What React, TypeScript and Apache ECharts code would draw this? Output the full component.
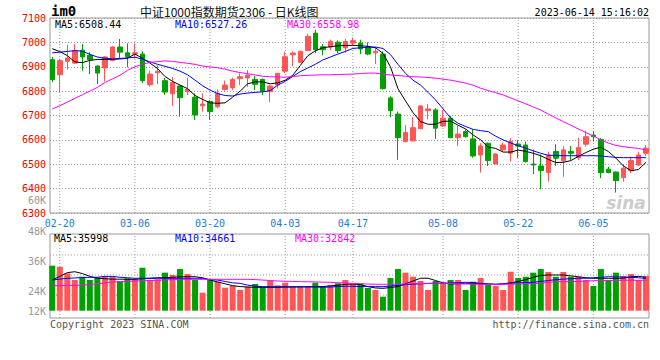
import React, { useEffect, useRef } from 'react';
import * as echarts from 'echarts';

const DATES = [
  '02-17',
  '02-20', '02-21', '02-22', '02-23', '02-24',
  '02-27', '02-28', '03-01', '03-02', '03-03',
  '03-06', '03-07', '03-08', '03-09', '03-10',
  '03-13', '03-14', '03-15', '03-16', '03-17',
  '03-20', '03-21', '03-22', '03-23', '03-24',
  '03-27', '03-28', '03-29', '03-30', '03-31',
  '04-03', '04-04', '04-06', '04-07',
  '04-10', '04-11', '04-12', '04-13', '04-14',
  '04-17', '04-18', '04-19', '04-20', '04-21',
  '04-24', '04-25', '04-26', '04-27', '04-28',
  '05-04', '05-05',
  '05-08', '05-09', '05-10', '05-11', '05-12',
  '05-15', '05-16', '05-17', '05-18', '05-19',
  '05-22', '05-23', '05-24', '05-25', '05-26',
  '05-29', '05-30', '05-31', '06-01', '06-02',
  '06-05', '06-06', '06-07', '06-08', '06-09',
  '06-12', '06-13', '06-14',
];
const TICK_DATES = ['02-20', '03-06', '03-20', '04-03', '04-17', '05-08', '05-22', '06-05'];

const OPEN = [
  6929, 6867, 6922, 6915, 6968, 6947, 6903, 6895, 6926, 6981,
  6957, 6952, 6952, 6826, 6875, 6843, 6789, 6821, 6798, 6775,
  6740, 6757, 6736, 6807, 6814, 6851, 6854, 6848, 6848, 6798,
  6825, 6882, 6949, 6918, 6967, 7038, 6982, 6981, 7001, 6977,
  6997, 6997, 6980, 6957, 6952, 6772, 6706, 6593, 6596, 6646,
  6720, 6723, 6657, 6689, 6609, 6634, 6604, 6538, 6586, 6501,
  6559, 6545, 6583, 6579, 6501, 6493, 6466, 6552, 6514, 6552,
  6527, 6582, 6620, 6602, 6480, 6468, 6445, 6473, 6497, 6545,
];
const CLOSE = [
  6847, 6925, 6936, 6967, 6940, 6929, 6874, 6940, 6981, 6960,
  6941, 6957, 6843, 6870, 6881, 6796, 6835, 6773, 6807, 6702,
  6747, 6716, 6791, 6825, 6848, 6859, 6866, 6828, 6800, 6821,
  6873, 6941, 6956, 6963, 7025, 6970, 6970, 7004, 6966, 7004,
  7007, 6973, 6952, 6963, 6810, 6720, 6609, 6630, 6650, 6739,
  6727, 6648, 6689, 6609, 6624, 6613, 6534, 6575, 6515, 6542,
  6579, 6593, 6575, 6511, 6497, 6474, 6538, 6525, 6559, 6545,
  6568, 6613, 6613, 6466, 6466, 6433, 6484, 6515, 6538, 6566,
];
const LOW = [
  6837, 6795, 6888, 6911, 6884, 6870, 6829, 6840, 6922, 6936,
  6898, 6933, 6833, 6818, 6829, 6785, 6739, 6695, 6784, 6682,
  6716, 6682, 6730, 6802, 6805, 6825, 6818, 6805, 6784, 6755,
  6811, 6873, 6902, 6915, 6963, 6956, 6947, 6968, 6956, 6957,
  6988, 6952, 6947, 6911, 6806, 6693, 6518, 6590, 6593, 6643,
  6684, 6604, 6654, 6607, 6575, 6609, 6527, 6466, 6493, 6501,
  6552, 6511, 6525, 6507, 6460, 6397, 6429, 6493, 6449, 6518,
  6518, 6572, 6593, 6443, 6463, 6384, 6429, 6463, 6493, 6534,
];
const HIGH = [
  6940, 6933, 6990, 6993, 6993, 6960, 6906, 6943, 6984, 7014,
  6996, 6996, 6963, 6884, 6906, 6854, 6858, 6823, 6855, 6791,
  6791, 6764, 6807, 6843, 6855, 6873, 6886, 6862, 6852, 6825,
  6875, 6961, 6963, 6966, 7035, 7052, 6993, 7011, 7008, 7014,
  7020, 7011, 7000, 6980, 6963, 6779, 6716, 6661, 6693, 6743,
  6747, 6730, 6723, 6698, 6657, 6643, 6643, 6586, 6589, 6545,
  6589, 6607, 6600, 6593, 6560, 6540, 6552, 6582, 6575, 6575,
  6609, 6638, 6636, 6607, 6490, 6470, 6497, 6531, 6552, 6579,
];

const MA5 = [
  6974, 6962, 6946, 6920, 6917, 6926, 6930, 6930, 6930, 6932,
  6935, 6952, 6935, 6915, 6893, 6860, 6840, 6825, 6810, 6782,
  6766, 6752, 6750, 6752, 6775, 6800, 6830, 6838, 6838, 6830,
  6834, 6845, 6865, 6905, 6945, 6965, 6978, 6982, 6986, 6987,
  6988, 6986, 6984, 6978, 6955, 6900, 6810, 6760, 6712, 6675,
  6664, 6664, 6676, 6677, 6660, 6645, 6620, 6600, 6570, 6565,
  6550, 6550, 6558, 6553, 6545, 6535, 6520, 6507, 6508, 6515,
  6532, 6548, 6562, 6570, 6552, 6525, 6493, 6474, 6478, 6508,
];
const MA10 = [
  6957, 6960, 6963, 6966, 6964, 6951, 6940, 6935, 6932, 6934,
  6936, 6939, 6931, 6920, 6910, 6902, 6893, 6882, 6867, 6845,
  6822, 6804, 6790, 6782, 6780, 6788, 6792, 6795, 6797, 6802,
  6825, 6840, 6860, 6880, 6895, 6910, 6928, 6940, 6952, 6963,
  6975, 6978, 6980, 6981, 6975, 6950, 6910, 6873, 6845, 6825,
  6795, 6764, 6727, 6690, 6668, 6655, 6643, 6638, 6634, 6615,
  6600, 6587, 6576, 6566, 6555, 6545, 6537, 6536, 6535, 6535,
  6535, 6535, 6535, 6534, 6531, 6528, 6527, 6527, 6527, 6527,
];
const MA30 = [
  6727, 6740, 6755, 6770, 6785, 6800, 6815, 6835, 6850, 6865,
  6885, 6900, 6910, 6918, 6921, 6924, 6922, 6918, 6914, 6910,
  6903, 6899, 6896, 6890, 6882, 6876, 6872, 6866, 6861, 6859,
  6858, 6857, 6860, 6863, 6865, 6866, 6867, 6867, 6868, 6869,
  6870, 6872, 6874, 6874, 6869, 6866, 6864, 6861, 6859, 6858,
  6856, 6853, 6849, 6845, 6839, 6833, 6824, 6812, 6802, 6794,
  6784, 6772, 6760, 6748, 6735, 6722, 6706, 6690, 6675, 6660,
  6645, 6630, 6616, 6600, 6587, 6577, 6572, 6568, 6565, 6559,
];

const VOLUME = [
  48500, 47400, 40300, 33100, 36600, 33100, 36000, 37400, 36600, 32000,
  34900, 33800, 46300, 33100, 33800, 41000, 38500, 44900, 39500, 33100,
  19400, 33100, 31300, 24800, 26600, 22300, 25900, 28800, 25900, 32300,
  27300, 30200, 25900, 25900, 26600, 30200, 25900, 27700, 29500, 33100,
  29500, 29500, 24500, 22300, 15100, 35200, 44900, 41000, 36600, 32000,
  22300, 32000, 29500, 33100, 33100, 22300, 31300, 35200, 27700, 26600,
  22300, 42000, 35200, 36600, 41000, 44900, 41700, 36600, 41700, 36600,
  36600, 33100, 26600, 44900, 33100, 41000, 37400, 39500, 33100, 37400,
];
const VOL_MA5 = [
  33100, 37000, 41000, 42000, 40000, 37000, 35000, 34500, 34000, 34000,
  33800, 33800, 34500, 35000, 35500, 35500, 36000, 36600, 36600, 36600,
  35500, 33000, 31000, 29000, 27000, 26000, 25500, 25200, 25200, 25200,
  25200, 25400, 25500, 25600, 25800, 25900, 26000, 26600, 27500, 28300,
  28800, 28000, 26000, 24500, 24100, 25000, 26000, 29000, 32000, 35000,
  35000, 32500, 30000, 28800, 29000, 29500, 29500, 29000, 28600, 28400,
  29000, 30000, 31500, 33500, 36000, 38000, 38500, 38500, 38500, 37500,
  36600, 35500, 34900, 34900, 34900, 34900, 35000, 36500, 37000, 36000,
];
const VOL_MA10 = [
  33100, 34000, 34900, 35300, 35700, 36000, 36000, 37000, 37000, 36000,
  35500, 34900, 34900, 34900, 34900, 34900, 34900, 34900, 34900, 34900,
  34900, 33500, 33000, 31500, 30000, 29500, 27500, 26500, 25900, 25900,
  25900, 25900, 25900, 25900, 25700, 25500, 25300, 25500, 26000, 26300,
  26300, 26000, 26000, 25900, 25900, 26500, 27300, 28000, 28500, 29000,
  29300, 29500, 29500, 30000, 30300, 30600, 30300, 29500, 29000, 28400,
  28800, 29500, 30000, 30300, 30600, 31500, 32500, 33500, 34000, 34500,
  34900, 35000, 35500, 36000, 36600, 36500, 36200, 36000, 35500, 34700,
];
const VOL_MA30 = [
  26900, 27000, 27200, 27300, 27500, 28300, 28800, 30000, 30900, 31200,
  31500, 32000, 32200, 32500, 32800, 33200, 33500, 33800, 33800, 33800,
  33800, 33800, 33800, 33800, 33800, 33800, 33800, 33500, 33000, 32500,
  32000, 31800, 31500, 31300, 31200, 31000, 30800, 30600, 30200, 29800,
  29400, 29000, 28700, 28500, 28400, 28500, 28700, 28900, 29100, 29300,
  29500, 29500, 29500, 29300, 29000, 28800, 28600, 28500, 28400, 28400,
  28500, 28700, 28900, 29100, 29300, 29500, 30500, 31300, 31300, 31300,
  31500, 32000, 32300, 32500, 32600, 32700, 32800, 32800, 32800, 32800,
];

const PRICE_MIN = 6300;
const PRICE_MAX = 7100;
const PRICE_STEP = 100;
const VOL_MIN = -7870;
const VOL_MAX = 82650;
const VOL_GRID_VALUES = [16900, 38500, 60000];
const VOL_TICK_LABELS = ['48K', '36K', '24K', '12K'];
const PRICE_MA_LABELS = ['MA5:6508.44', 'MA10:6527.26', 'MA30:6558.98'];
const VOL_MA_LABELS = ['MA5:35998', 'MA10:34661', 'MA30:32842'];
const TITLE = '中证1000指数期货2306 - 日K线图';
const CODE = 'im0';
const TIMESTAMP = '2023-06-14 15:16:02';

const RED = '#ff5555';
const GREEN = '#00a000';
const MA_COLORS = ['#000000', '#0000ff', '#ff00ff'];
const MONO = "'DejaVu Sans Mono', 'Liberation Mono', monospace";
const GRID_COLOR = '#9a9a9a';
const BORDER_COLOR = '#999999';

export default function App() {
  const ref = useRef<HTMLDivElement>(null);
  useEffect(() => {
    const chart = echarts.init(ref.current!, null, { renderer: 'svg' });
    const tickIdx = TICK_DATES.map((d) => DATES.indexOf(d));
    const xMin = -0.3;
    const xMax = DATES.length - 1 + 0.4;
    const pair = (arr: number[]) => arr.map((v, i) => [i, v]);
    const candleData = DATES.map((_, i) => [i, OPEN[i], CLOSE[i], LOW[i], HIGH[i]]);
    const volData = VOLUME.map((v, i) => ({
      value: [i, v],
      itemStyle: { color: CLOSE[i] >= OPEN[i] ? RED : GREEN },
    }));
    const lineSeries = (name: string, data: number[], color: string, axis: number) => ({
      name,
      type: 'line',
      xAxisIndex: axis,
      yAxisIndex: axis,
      data: pair(data),
      symbol: 'none',
      showSymbol: false,
      lineStyle: { color, width: 1 },
      z: 4,
      silent: true,
    });
    // dotted reference lines drawn behind the candles / bars
    const gridSeries = (axis: number, data: number[][]) => ({
      type: 'line',
      xAxisIndex: axis,
      yAxisIndex: axis,
      data,
      symbol: 'none',
      showSymbol: false,
      clip: false,
      silent: true,
      z: 1,
      lineStyle: { color: GRID_COLOR, width: 1, type: [1, 2] },
    });
    const gridLines: any[] = [
      ...tickIdx.map((i) => gridSeries(0, [[i, PRICE_MIN], [i, PRICE_MAX]])),
      ...tickIdx.map((i) => gridSeries(1, [[i, VOL_MIN], [i, VOL_MAX]])),
      ...VOL_GRID_VALUES.map((v) => gridSeries(1, [[xMin, v], [xMax, v]])),
    ];

    const txt = (text: string, x: number, y: number, fill: string, font: string, align = 'left') => ({
      type: 'text',
      x,
      y,
      silent: true,
      style: { text, fill, font, textAlign: align, textVerticalAlign: 'middle' },
    });
    const xAxisBase = (gridIndex: number, showLabel: boolean) => ({
      type: 'value',
      gridIndex,
      min: xMin,
      max: xMax,
      axisLine: { show: false },
      axisTick: { show: false },
      splitLine: { show: false },
      axisLabel: {
        show: showLabel,
        customValues: tickIdx,
        formatter: (v: number) => DATES[Math.round(v)] || '',
        color: '#1a80d8',
        fontFamily: MONO,
        fontSize: 10,
        margin: 5,
      },
    });

    const option: any = {
      animation: false,
      backgroundColor: '#ffffff',
      grid: [
        { left: 50, right: 11, top: 18, height: 195, show: true, borderColor: BORDER_COLOR, borderWidth: 1 },
        { left: 50, right: 11, top: 234, height: 84, show: true, borderColor: BORDER_COLOR, borderWidth: 1 },
      ],
      xAxis: [xAxisBase(0, true), xAxisBase(1, false)],
      yAxis: [
        {
          type: 'value',
          gridIndex: 0,
          min: PRICE_MIN,
          max: PRICE_MAX,
          interval: PRICE_STEP,
          axisLine: { show: false },
          axisTick: { show: false },
          axisLabel: {
            color: '#ee0000',
            fontFamily: MONO,
            fontSize: 10,
            margin: 4,
            formatter: (v: number) => String(v),
          },
          splitLine: { show: true, lineStyle: { color: GRID_COLOR, width: 1, type: [1, 2] } },
        },
        {
          type: 'value',
          gridIndex: 1,
          min: VOL_MIN,
          max: VOL_MAX,
          axisLine: { show: false },
          axisTick: { show: false },
          axisLabel: { show: false },
          splitLine: { show: false },
        },
      ],
      series: [
        ...gridLines,
        {
          type: 'candlestick',
          xAxisIndex: 0,
          yAxisIndex: 0,
          data: candleData,
          barWidth: 5,
          z: 3,
          silent: true,
          itemStyle: { color: RED, color0: GREEN, borderColor: RED, borderColor0: GREEN, borderWidth: 1 },
        },
        lineSeries('MA5', MA5, MA_COLORS[0], 0),
        lineSeries('MA10', MA10, MA_COLORS[1], 0),
        lineSeries('MA30', MA30, MA_COLORS[2], 0),
        {
          type: 'bar',
          xAxisIndex: 1,
          yAxisIndex: 1,
          data: volData,
          barWidth: 6,
          z: 3,
          silent: true,
        },
        lineSeries('VMA5', VOL_MA5, MA_COLORS[0], 1),
        lineSeries('VMA10', VOL_MA10, MA_COLORS[1], 1),
        lineSeries('VMA30', VOL_MA30, MA_COLORS[2], 1),
      ],
      graphic: [
        txt(CODE, 51, 11, '#000', `bold 14px ${MONO}`),
        txt(TITLE, 140, 11, '#111', "12px 'Noto Sans CJK SC', sans-serif"),
        txt(TIMESTAMP, 649, 12, '#000', `10px ${MONO}`, 'right'),
        txt(PRICE_MA_LABELS[0], 55, 24.5, MA_COLORS[0], `10px ${MONO}`),
        txt(PRICE_MA_LABELS[1], 175, 24.5, MA_COLORS[1], `10px ${MONO}`),
        txt(PRICE_MA_LABELS[2], 287, 24.5, MA_COLORS[2], `10px ${MONO}`),
        txt('60K', 46, 200, '#999', `10px ${MONO}`, 'right'),
        txt(VOL_TICK_LABELS[0], 46, 231, '#999', `10px ${MONO}`, 'right'),
        txt(VOL_TICK_LABELS[1], 46, 261, '#999', `10px ${MONO}`, 'right'),
        txt(VOL_TICK_LABELS[2], 46, 291, '#999', `10px ${MONO}`, 'right'),
        txt(VOL_TICK_LABELS[3], 46, 311, '#999', `10px ${MONO}`, 'right'),
        txt(VOL_MA_LABELS[0], 54, 238.5, MA_COLORS[0], `10px ${MONO}`),
        txt(VOL_MA_LABELS[1], 175, 238.5, MA_COLORS[1], `10px ${MONO}`),
        txt(VOL_MA_LABELS[2], 295, 238.5, MA_COLORS[2], `10px ${MONO}`),
        txt('Copyright 2023 SINA.COM', 50, 324, '#555', `10px ${MONO}`),
        txt('http://finance.sina.com.cn', 649, 324, '#555', `10px ${MONO}`, 'right'),
        txt('sina', 626, 203, '#cccccc', "italic bold 17px 'DejaVu Sans', sans-serif", 'center'),
      ],
    };
    chart.setOption(option);
    return () => chart.dispose();
  }, []);
  return (
    <div
      ref={ref}
      style={{ position: 'fixed', left: 0, top: 0, width: 660, height: 360, background: '#fff' }}
    />
  );
}
